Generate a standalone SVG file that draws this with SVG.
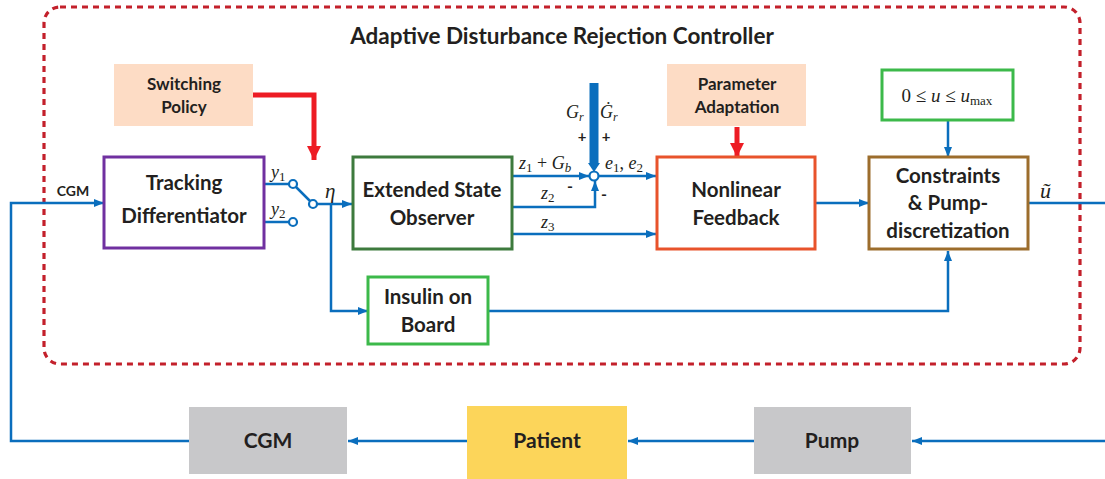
<svg xmlns="http://www.w3.org/2000/svg" width="1105" height="479" viewBox="0 0 1105 479">
<style>
.lbl{font-family:Lato,"Open Sans","Liberation Sans",sans-serif;font-weight:bold;fill:#231f20;text-anchor:middle}
.math{font-family:"Liberation Serif","DejaVu Serif",serif;fill:#231f20}
.ln{fill:none;stroke:#0a6ebd;stroke-width:2.5}
.box{fill:#fff;stroke-width:3}
</style>
<defs>
<marker id="ab" markerUnits="userSpaceOnUse" markerWidth="10" markerHeight="10" viewBox="0 0 10 10" refX="10" refY="5" orient="auto">
<path d="M0,1 L10,5 L0,9 z" fill="#0a6ebd"/>
</marker>
<marker id="ar" markerUnits="userSpaceOnUse" markerWidth="14" markerHeight="14" viewBox="0 0 14 14" refX="14" refY="7" orient="auto">
<path d="M0,0 L14,7 L0,14 z" fill="#ed1c24"/>
</marker>
</defs>
<rect width="1105" height="479" fill="#fff"/>

<rect x="44" y="7" width="1036" height="357" rx="16" fill="none" stroke="#c3202b" stroke-width="3.2" stroke-dasharray="6,5"/>
<text class="lbl" x="562" y="44" font-size="22.5">Adaptive Disturbance Rejection Controller</text>

<g id="connectors">
<path class="ln" d="M1105,441 H912" marker-end="url(#ab)"/>
<path class="ln" d="M754,441 H628" marker-end="url(#ab)"/>
<path class="ln" d="M467,441 H348" marker-end="url(#ab)"/>
<path class="ln" d="M189,441 H11 V203 H104" marker-end="url(#ab)"/>
<path class="ln" d="M265,184 H289"/>
<path class="ln" d="M265,222 H289"/>
<path class="ln" d="M296,187 L310,201"/>
<path class="ln" d="M317,204 H352" marker-end="url(#ab)"/>
<path class="ln" d="M331,204 V311 H368" marker-end="url(#ab)"/>
<path class="ln" d="M512,176 H589" marker-end="url(#ab)"/>
<path class="ln" d="M512,207 H595 V181" marker-end="url(#ab)"/>
<path class="ln" d="M512,234 H656" marker-end="url(#ab)"/>
<path class="ln" d="M599,176 H656" marker-end="url(#ab)"/>
<path class="ln" d="M816,203 H869" marker-end="url(#ab)"/>
<path class="ln" d="M948,120 V157" marker-end="url(#ab)"/>
<path class="ln" d="M488,311 H948 V251" marker-end="url(#ab)"/>
<path class="ln" d="M1028,203 H1105"/>
<path d="M594,83 V164" stroke="#0a6ebd" stroke-width="9" fill="none"/>
<path d="M588,163 L594,172 L600,163 z" fill="#0a6ebd"/>
<path d="M253,95 H314 V160" fill="none" stroke="#ed1c24" stroke-width="5" marker-end="url(#ar)"/>
<path d="M737,127 V157" fill="none" stroke="#ed1c24" stroke-width="5" marker-end="url(#ar)"/>
<circle cx="293" cy="184" r="4" fill="#fff" stroke="#0a6ebd" stroke-width="2.2"/>
<circle cx="293" cy="222" r="4" fill="#fff" stroke="#0a6ebd" stroke-width="2.2"/>
<circle cx="313" cy="204" r="4" fill="#fff" stroke="#0a6ebd" stroke-width="2.2"/>
<circle cx="594" cy="176" r="4.5" fill="#fff" stroke="#0a6ebd" stroke-width="2.2"/>
</g>

<g id="labels">
<text class="lbl" x="73" y="196" font-size="14">CGM</text>
<text class="math" x="271" y="178" font-size="18" font-style="italic">y<tspan font-size="13" font-style="normal" dy="3">1</tspan></text>
<text class="math" x="271" y="215" font-size="18" font-style="italic">y<tspan font-size="13" font-style="normal" dy="3">2</tspan></text>
<text class="math" x="325" y="198" font-size="21" font-style="italic">η</text>
<text class="math" x="519" y="169" font-size="18"><tspan font-style="italic">z</tspan><tspan font-size="13" dy="3">1</tspan><tspan dy="-3"> + </tspan><tspan font-style="italic">G</tspan><tspan font-size="13" font-style="italic" dy="3">b</tspan></text>
<text class="math" x="541" y="199" font-size="18"><tspan font-style="italic">z</tspan><tspan font-size="13" dy="3">2</tspan></text>
<text class="math" x="541" y="228" font-size="18"><tspan font-style="italic">z</tspan><tspan font-size="13" dy="3">3</tspan></text>
<text class="math" x="605" y="169" font-size="18"><tspan font-style="italic">e</tspan><tspan font-size="13" dy="3">1</tspan><tspan dy="-3">, </tspan><tspan font-style="italic">e</tspan><tspan font-size="13" dy="3">2</tspan></text>
<text class="math" x="566" y="118" font-size="18"><tspan font-style="italic">G</tspan><tspan font-size="12" font-style="italic" dy="3">r</tspan></text>
<text class="math" x="600" y="118" font-size="18"><tspan font-style="italic">Ġ</tspan><tspan font-size="12" font-style="italic" dy="3">r</tspan></text>
<text class="lbl" x="582" y="142" font-size="15">+</text>
<text class="lbl" x="606" y="142" font-size="15">+</text>
<text class="lbl" x="570" y="192" font-size="16">-</text>
<text class="lbl" x="604" y="200" font-size="16">-</text>
<text class="math" x="1040" y="198" font-size="22" font-style="italic">ũ</text>
</g>

<g id="switching-policy">
<rect x="114" y="64" width="139" height="62" fill="#fddcc5"/>
<text class="lbl" x="184" y="90" font-size="17">Switching</text>
<text class="lbl" x="184" y="113" font-size="17">Policy</text>
</g>
<g id="parameter-adaptation">
<rect x="667" y="64" width="139" height="62" fill="#fddcc5"/>
<text class="lbl" x="737" y="90" font-size="17">Parameter</text>
<text class="lbl" x="737" y="113" font-size="17">Adaptation</text>
</g>
<g id="tracking-differentiator">
<rect class="box" x="104" y="157" width="160" height="91" stroke="#7030a0"/>
<text class="lbl" x="184" y="190" font-size="20.5">Tracking</text>
<text class="lbl" x="184" y="223" font-size="20.5">Differentiator</text>
</g>
<g id="eso">
<rect class="box" x="353" y="157" width="159" height="92" stroke="#3d7a3d"/>
<text class="lbl" x="432" y="197" font-size="20.5">Extended State</text>
<text class="lbl" x="432" y="225" font-size="20.5">Observer</text>
</g>
<g id="insulin-on-board">
<rect class="box" x="368" y="277" width="120" height="67" stroke="#3cb94a"/>
<text class="lbl" x="428" y="304" font-size="20.5">Insulin on</text>
<text class="lbl" x="428" y="332" font-size="20.5">Board</text>
</g>
<g id="nonlinear-feedback">
<rect class="box" x="657" y="157" width="158" height="92" stroke="#e8532b"/>
<text class="lbl" x="736" y="197" font-size="20.5">Nonlinear</text>
<text class="lbl" x="736" y="225" font-size="20.5">Feedback</text>
</g>
<g id="constraints">
<rect class="box" x="869" y="157" width="159" height="92" stroke="#9c6d2c"/>
<text class="lbl" x="948" y="183" font-size="20.5">Constraints</text>
<text class="lbl" x="948" y="210" font-size="20.5">&amp; Pump-</text>
<text class="lbl" x="948" y="238" font-size="20.5">discretization</text>
</g>
<g id="u-limits">
<rect class="box" x="882" y="70" width="131" height="50" stroke="#3cb94a"/>
<text class="math" x="947" y="102" font-size="19" text-anchor="middle">0 ≤ <tspan font-style="italic">u</tspan> ≤ <tspan font-style="italic">u</tspan><tspan font-size="13" dy="3">max</tspan></text>
</g>
<g id="cgm">
<rect x="189" y="407" width="158" height="67" fill="#c8c8ca"/>
<text class="lbl" x="268" y="448" font-size="21">CGM</text>
</g>
<g id="patient">
<rect x="467" y="406" width="160" height="73" fill="#fcd55a"/>
<text class="lbl" x="547" y="448" font-size="21">Patient</text>
</g>
<g id="pump">
<rect x="754" y="407" width="157" height="67" fill="#c8c8ca"/>
<text class="lbl" x="832" y="448" font-size="21">Pump</text>
</g>
</svg>
